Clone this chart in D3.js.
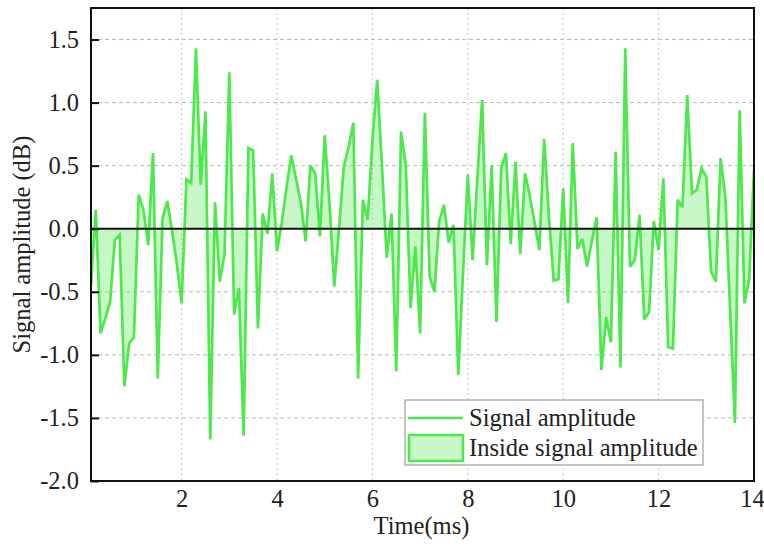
<!DOCTYPE html>
<html>
<head>
<meta charset="utf-8">
<script src="https://cdn.jsdelivr.net/npm/d3@7/dist/d3.min.js"></script>
<style>
  html, body { margin: 0; padding: 0; background: #fff; }
  svg { display: block; }
  text { font-family: "Liberation Serif", "Times New Roman", serif; fill: #222; }
</style>
</head>
<body>
<svg id="chart" width="764" height="550"></svg>
<script>
// ---- data ----
const times = [
  0.1,0.2,0.3,0.4,0.5,0.6,0.7,0.8,0.9,1.0,
  1.1,1.2,1.3,1.4,1.5,1.6,1.7,1.8,1.9,2.0,
  2.1,2.2,2.3,2.4,2.5,2.6,2.7,2.8,2.9,3.0,
  3.1,3.2,3.3,3.4,3.5,3.6,3.7,3.8,3.9,4.0,
  4.1,4.2,4.3,4.4,4.5,4.6,4.7,4.8,4.9,5.0,
  5.1,5.2,5.3,5.4,5.5,5.6,5.7,5.8,5.9,6.0,
  6.1,6.2,6.3,6.4,6.5,6.6,6.7,6.8,6.9,7.0,
  7.1,7.2,7.3,7.4,7.5,7.6,7.7,7.8,7.9,8.0,
  8.1,8.2,8.3,8.4,8.5,8.6,8.7,8.8,8.9,9.0,
  9.1,9.2,9.3,9.4,9.5,9.6,9.7,9.8,9.9,10.0,
  10.1,10.2,10.3,10.4,10.5,10.6,10.7,10.8,10.9,11.0,
  11.1,11.2,11.3,11.4,11.5,11.6,11.7,11.8,11.9,12.0,
  12.1,12.2,12.3,12.4,12.5,12.6,12.7,12.8,12.9,13.0,
  13.1,13.2,13.3,13.4,13.5,13.6,13.7,13.8,13.9,14.0
];
const amplitude = [
  -0.45,0.15,-0.83,-0.71,-0.58,-0.09,-0.05,-1.25,-0.91,-0.86,
  0.27,0.15,-0.13,0.60,-1.19,0.08,0.22,-0.02,-0.28,-0.59,
  0.39,0.36,1.43,0.35,0.93,-1.67,0.21,-0.42,-0.20,1.24,
  -0.68,-0.47,-1.64,0.64,0.62,-0.79,0.12,-0.04,0.44,-0.18,
  0.05,0.33,0.58,0.39,0.21,-0.10,0.50,0.44,-0.06,0.74,
  0.20,-0.46,0.00,0.49,0.65,0.84,-1.19,0.23,0.07,0.70,
  1.18,0.50,-0.23,0.12,-1.13,0.77,0.50,-0.63,-0.14,-0.83,
  0.92,-0.38,-0.50,0.06,0.19,-0.11,0.03,-1.16,-0.35,0.43,
  -0.25,0.40,1.02,-0.29,0.50,-0.74,0.48,0.60,-0.12,0.53,
  -0.20,0.44,0.26,0.05,-0.17,0.71,0.10,-0.41,-0.40,0.32,
  -0.59,0.68,-0.16,-0.08,-0.30,-0.10,0.09,-1.12,-0.70,-0.90,
  0.61,-1.10,1.43,-0.30,-0.25,0.11,-0.72,-0.66,0.06,-0.17,
  0.40,-0.94,-0.95,0.23,0.17,1.06,0.28,0.31,0.48,0.41,
  -0.34,-0.42,0.56,0.25,-0.65,-1.54,0.94,-0.59,-0.40,0.47
];
const xTicks = [2, 4, 6, 8, 10, 12, 14];
const yTicks = [-2.0, -1.5, -1.0, -0.5, 0.0, 0.5, 1.0, 1.5];
const yTickLabels = ["-2.0", "-1.5", "-1.0", "-0.5", "0.0", "0.5", "1.0", "1.5"];
const legendLabels = ["Signal amplitude", "Inside signal amplitude"];
const xTitle = "Time(ms)";
const yTitle = "Signal amplitude (dB)";

// ---- layout ----
const L = 91, R = 754, T = 8, B = 481;
const lineColor = "#4ce84c";
const fillColor = "#5fe65f";
const fontPx = "24.5px";

const svg = d3.select("#chart");
const x = d3.scaleLinear().domain([0.1, 14]).range([L, R]);
const y = d3.scaleLinear().domain([-2, 1.75]).range([B, T]);

const data = times.map((t, i) => ({ t, v: amplitude[i] }));

svg.append("defs").append("clipPath").attr("id", "clip")
  .append("rect").attr("x", L).attr("y", T).attr("width", R - L).attr("height", B - T);

// grid
const grid = svg.append("g");
grid.selectAll("line.h").data(yTicks.filter(d => d > -2 && d !== 0)).enter().append("line")
  .attr("x1", L).attr("x2", R).attr("y1", d => y(d)).attr("y2", d => y(d))
  .attr("stroke", "#b8b8b8").attr("stroke-width", 1).attr("stroke-dasharray", "4,3");
grid.selectAll("line.v").data(xTicks.filter(d => d < 14)).enter().append("line")
  .attr("x1", d => x(d)).attr("x2", d => x(d)).attr("y1", T).attr("y2", B)
  .attr("stroke", "#c4c4c4").attr("stroke-width", 1).attr("stroke-dasharray", "2,3");

// area and line
const plot = svg.append("g").attr("clip-path", "url(#clip)");
plot.append("path").datum(data)
  .attr("d", d3.area().x(d => x(d.t)).y0(y(0)).y1(d => y(d.v)))
  .attr("fill", fillColor).attr("fill-opacity", 0.35);
plot.append("path").datum(data)
  .attr("d", d3.line().x(d => x(d.t)).y(d => y(d.v)))
  .attr("fill", "none").attr("stroke", lineColor).attr("stroke-width", 2.7)
  .attr("stroke-linejoin", "miter").attr("stroke-miterlimit", 3);

// zero line
svg.append("line").attr("x1", L).attr("x2", R).attr("y1", y(0)).attr("y2", y(0))
  .attr("stroke", "#111").attr("stroke-width", 2);

// y axis
const yAxis = d3.axisLeft(y).tickValues(yTicks).tickSizeInner(-8).tickSizeOuter(0).tickPadding(12)
  .tickFormat((d, i) => yTickLabels[i]);
const gy = svg.append("g").attr("transform", `translate(${L},0)`).call(yAxis);
gy.select(".domain").remove();
gy.selectAll(".tick line").attr("stroke", "#111").attr("stroke-width", 2);
gy.selectAll(".tick text").style("font-size", fontPx).style("font-family", "Liberation Serif").attr("fill", "#222");

// x axis
const xAxis = d3.axisBottom(x).tickValues(xTicks).tickSize(0).tickPadding(9);
const gx = svg.append("g").attr("transform", `translate(0,${B})`).call(xAxis);
gx.select(".domain").remove();
gx.selectAll(".tick text").style("font-size", fontPx).style("font-family", "Liberation Serif").attr("fill", "#222")
  .attr("dx", d => d === 14 ? -2 : 0);

// frame
svg.append("rect").attr("x", L).attr("y", T).attr("width", R - L).attr("height", B - T)
  .attr("fill", "none").attr("stroke", "#111").attr("stroke-width", 2);

// titles
svg.append("text").attr("x", (L + R) / 2 - 1).attr("y", 534).attr("text-anchor", "middle")
  .style("font-size", fontPx).text(xTitle);
svg.append("text").attr("transform", `translate(30,${(T + B) / 2}) rotate(-90)`)
  .attr("text-anchor", "middle").style("font-size", fontPx).text(yTitle);

// legend
const lg = svg.append("g");
lg.append("rect").attr("x", 405).attr("y", 400).attr("width", 298).attr("height", 65)
  .attr("fill", "#fff").attr("stroke", "#8a8a8a").attr("stroke-width", 1);
lg.append("line").attr("x1", 408).attr("x2", 463).attr("y1", 418).attr("y2", 418)
  .attr("stroke", lineColor).attr("stroke-width", 2.5);
lg.append("rect").attr("x", 409).attr("y", 435).attr("width", 54).attr("height", 26)
  .attr("fill", fillColor).attr("fill-opacity", 0.35).attr("stroke", lineColor).attr("stroke-width", 2.5);
lg.selectAll("text.lab").data(legendLabels).enter().append("text")
  .attr("x", 469).attr("y", (d, i) => 426 + i * 30)
  .style("font-size", fontPx).text(d => d);
</script>
</body>
</html>
